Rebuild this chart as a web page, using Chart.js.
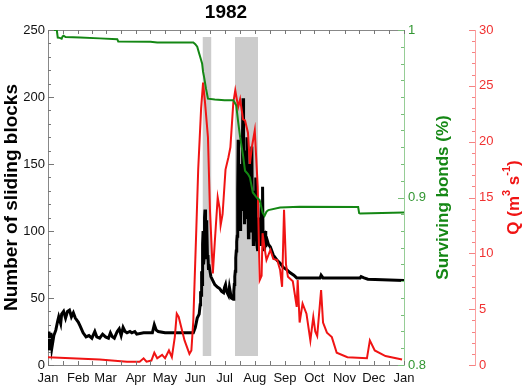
<!DOCTYPE html>
<html lang="en">
<head>
<meta charset="UTF-8">
<title>1982</title>
<script src="https://cdn.jsdelivr.net/npm/chart.js"></script>
<style>
    html, body { margin: 0; padding: 0; background: #fff; }
    #wrap { width: 525px; height: 387px; }
</style>
</head>
<body>
<div id="wrap"><canvas id="chart" width="525" height="387"></canvas></div>
<script>
// day of year -> value
const monthStarts = [0, 31, 59, 90, 120, 151, 181, 212, 243, 273, 304, 334, 365];
const monthLabels = ['Jan', 'Feb', 'Mar', 'Apr', 'May', 'Jun', 'Jul', 'Aug', 'Sep', 'Oct', 'Nov', 'Dec', 'Jan'];

const blockDays = [0, 1, 3, 4, 6, 8, 10, 11, 13, 14, 16, 18, 20, 22, 24, 26, 28, 31, 33, 36, 39, 42, 45, 48, 50, 53, 56, 59, 62, 64, 66, 68, 71, 73, 75, 77, 79, 81, 84, 86, 89, 91, 98, 107, 109, 111, 113, 120, 149, 151, 153, 155,
    156, 156.5, 157, 157.5, 158, 158.5, 159, 159.5, 160, 160.5, 161, 161.5, 162, 162.5, 163, 163.5, 164, 164.5, 165, 167, 169, 171, 174, 176, 178, 180, 181, 182, 183, 185, 186, 188,
    190, 190.5, 191, 191.5, 192, 192.5, 193, 193.5, 194, 194.5, 195, 195.5, 196, 196.5, 197, 197.5, 198, 198.5, 199, 199.5, 200, 200.5, 201, 201.5, 202, 202.5, 203, 203.5, 204, 204.5,
    205, 205.5, 206, 206.5, 207, 207.5, 208, 208.5, 209, 209.5, 210, 210.5, 211, 211.5, 212, 212.5, 213, 213.5, 214, 214.5, 215, 215.5, 216, 216.5, 217, 217.5, 218, 218.5, 219, 219.5,
    220, 220.5, 221, 221.5, 222, 222.5, 223, 223.5, 224, 226, 228, 231, 235, 238, 241, 245, 248, 252, 255, 279, 280, 282, 320, 321, 324, 328, 365];
const blockCounts = [25, 11, 24, 13, 22, 26, 33, 36, 31, 38, 40, 35, 40, 41, 36, 39, 35, 32, 29, 24, 21, 22, 20, 25, 21, 20, 23, 21, 20, 24, 21, 20, 25, 27, 22, 28, 25, 24, 25, 24, 25, 23, 24, 24, 30, 26, 25, 24, 24, 28, 35, 38,
    45, 55, 52, 70, 60, 90, 100, 75, 80, 110, 116, 85, 95, 108, 105, 80, 82, 72, 75, 66, 63, 60, 58, 57, 55, 54, 58, 60, 55, 52, 58, 50,
    49, 55, 60, 66, 70, 80, 85, 92, 96, 130, 168, 120, 110, 140, 130, 100, 150, 115, 120, 175, 199, 130, 140, 105, 120, 150, 160, 110, 170, 120,
    125, 95, 110, 145, 150, 100, 135, 105, 163, 110, 115, 90, 95, 130, 120, 95, 140, 100, 100, 88, 85, 110, 100, 90, 110, 90, 95, 120, 105, 90,
    133, 95, 100, 88, 85, 98, 100, 88, 95, 90, 88, 82, 78, 76, 73, 71, 69, 67, 65, 65, 67, 65, 65, 66, 65, 64, 63];

const bondDays = [0, 9, 10, 12, 14, 15, 16, 18, 33, 53, 71, 72, 105, 112, 149, 151, 153, 155, 156, 158, 159, 160, 162, 164, 171, 181, 190, 193, 195, 197, 200, 202, 205, 207, 210, 214, 217, 220, 222, 224, 226, 238, 258, 318, 319, 320, 365];
const bondFractions = [1.0, 1.0, 0.9955, 0.9953, 0.9948, 0.9962, 0.9966, 0.9958, 0.9955, 0.995, 0.9945, 0.9932, 0.993, 0.9925, 0.9925, 0.9915, 0.990, 0.986, 0.984, 0.980, 0.975, 0.972, 0.965, 0.959, 0.9585, 0.958, 0.958, 0.955, 0.945, 0.936, 0.925, 0.916, 0.914, 0.912, 0.903, 0.900, 0.8985, 0.891, 0.889, 0.8915, 0.8925, 0.894, 0.8945, 0.8943, 0.8907, 0.8905, 0.891];

const flowDays = [0, 53, 81, 94, 98, 101, 106, 109, 112, 117, 120, 124, 127, 130, 132, 134, 140, 145, 147, 149, 152, 154, 157, 159, 161, 164, 166, 169, 171, 174, 176, 177, 179, 182, 185, 187, 190, 192, 195, 197, 200, 202, 205, 207, 209, 212, 215, 217, 219, 220, 222, 224, 228, 231, 235, 238, 240, 242, 244, 246, 251, 255, 256, 258, 261, 265, 269, 272, 274, 276, 280, 282, 286, 291, 296, 307, 327, 330, 335, 346, 363];
const flowValues = [0.7, 0.5, 0.3, 0.3, 0.6, 0.3, 0.4, 1.1, 0.6, 0.9, 0.6, 1.3, 0.7, 2.5, 4.6, 4.3, 2.2, 1.0, 1.3, 4.0, 12, 17.5, 23, 25.3, 23.5, 20.4, 14, 8.2, 11, 15, 14, 12.5, 13.5, 17.5, 18.6, 19.5, 23.5, 24.6, 23.1, 23.8, 22, 21.9, 20.8, 18, 19.5, 21, 16, 7.6, 8, 11.8, 10.5, 9.4, 10.3, 9.5, 9.4, 8.5, 7.0, 13.9, 9, 7.9, 7.5, 5.2, 7.6, 3.8, 5.5, 4.6, 2.2, 4.3, 3.0, 2.6, 6.7, 3.8, 2.9, 2.5, 1.1, 0.7, 0.6, 2.2, 1.3, 0.8, 0.5];

// shaded periods (day of year), height in sliding-block units
const bandStarts = [158.4, 191.7];
const bandEnds = [167.6, 215.3];
const bandBottom = 6.7;
const bandTop = 244.8;

const FONT = "'Liberation Sans', Arial, Helvetica, sans-serif";
const GREEN = 'rgb(20, 135, 20)';
const RED = 'rgb(240, 20, 20)';

function pairs(xs, ys) {
    return xs.map((x, i) => ({ x: x, y: ys[i] }));
}

const bandSets = bandStarts.map((s, i) => ({
    data: [
        { x: s, y: bandBottom }, { x: s, y: bandTop },
        { x: bandEnds[i], y: bandTop }, { x: bandEnds[i], y: bandBottom }
    ],
    yAxisID: 'y',
    borderWidth: 0,
    backgroundColor: 'rgb(204, 204, 204)',
    fill: { value: bandBottom },
    pointRadius: 0
}));

// ticks pointing into the plot, like the original
const inwardTicks = {
    id: 'inwardTicks',
    afterDatasetsDraw(chart) {
        const { ctx, chartArea: a, scales } = chart;
        const seg = (x1, y1, x2, y2) => { ctx.beginPath(); ctx.moveTo(x1, y1); ctx.lineTo(x2, y2); ctx.stroke(); };
        ctx.save();
        ctx.lineWidth = 1;

        ctx.strokeStyle = '#777';
        for (let i = 0; i < monthStarts.length; i++) {
            const days = [monthStarts[i]];
            if (i < monthStarts.length - 1) days.push((monthStarts[i] + monthStarts[i + 1]) / 2);
            days.forEach(d => {
                const px = Math.round(scales.x.getPixelForValue(d)) + 0.5;
                seg(px, a.bottom, px, a.bottom - 4);
                seg(px, a.top, px, a.top + 4);
            });
        }
        for (let v = 0; v <= 250; v += 10) {
            const py = Math.round(scales.y.getPixelForValue(v)) + 0.5;
            seg(a.left, py, a.left + (v % 50 === 0 ? 6 : 3), py);
        }

        ctx.strokeStyle = 'rgb(120, 190, 120)';
        for (let k = 0; k <= 20; k++) {
            const py = Math.round(scales.y1.getPixelForValue(0.8 + k * 0.01)) + 0.5;
            seg(a.right, py, a.right - (k % 10 === 0 ? 6 : 3), py);
        }

        ctx.strokeStyle = 'rgb(245, 130, 130)';
        const rx = scales.y2.left;
        for (let v = 0; v <= 30; v++) {
            const py = Math.round(scales.y2.getPixelForValue(v)) + 0.5;
            seg(rx, py, rx - (v % 5 === 0 ? 6 : 3), py);
        }

        // right-hand titles, read bottom to top
        ctx.textAlign = 'center';
        ctx.textBaseline = 'middle';
        const cy = (a.top + a.bottom) / 2;

        ctx.save();
        ctx.translate(scales.y1.left + 39, cy);
        ctx.rotate(-Math.PI / 2);
        ctx.fillStyle = GREEN;
        ctx.font = 'bold 17px ' + FONT;
        ctx.fillText('Surviving bonds (%)', 0, 0);
        ctx.restore();

        ctx.save();
        ctx.translate(scales.y2.left + 39, cy);
        ctx.rotate(-Math.PI / 2);
        ctx.fillStyle = RED;
        const big = 'bold 17px ' + FONT;
        const small = 'bold 11px ' + FONT;
        const parts = [['Q (m', big, 0], ['3', small, -7], [' s', big, 0], ['-1', small, -7], [')', big, 0]];
        let total = 0;
        parts.forEach(p => { ctx.font = p[1]; total += ctx.measureText(p[0]).width; });
        let px = -total / 2;
        ctx.textAlign = 'left';
        parts.forEach(p => {
            ctx.font = p[1];
            ctx.fillText(p[0], px, p[2]);
            px += ctx.measureText(p[0]).width;
        });
        ctx.restore();

        ctx.restore();
    }
};

new Chart(document.getElementById('chart'), {
    type: 'line',
    data: {
        datasets: [
            { data: pairs(bondDays, bondFractions), yAxisID: 'y1', borderColor: GREEN, borderWidth: 2, pointRadius: 0, fill: false },
            { data: pairs(flowDays, flowValues), yAxisID: 'y2', borderColor: RED, borderWidth: 2, pointRadius: 0, fill: false },
            { data: pairs(blockDays, blockCounts), yAxisID: 'y', borderColor: '#000', borderWidth: 3, pointRadius: 0, fill: false },
            ...bandSets
        ]
    },
    options: {
        responsive: false,
        animation: false,
        layout: { padding: 0 },
        plugins: { legend: { display: false }, tooltip: { enabled: false } },
        scales: {
            x: {
                type: 'linear', position: 'bottom', min: 0, max: 365,
                grid: { display: false, drawTicks: false },
                border: { display: true, color: '#888' },
                afterBuildTicks: s => { s.ticks = monthStarts.map(v => ({ value: v })); },
                afterFit: s => { s.height = 22; },
                ticks: {
                    autoSkip: false, maxRotation: 0, padding: 6, color: '#111',
                    font: { family: FONT, size: 13 },
                    callback: (v, i) => monthLabels[i]
                }
            },
            x2: {
                type: 'linear', position: 'top', min: 0, max: 365,
                grid: { display: false, drawTicks: false },
                border: { display: true, color: '#888' },
                ticks: { display: false },
                afterFit: s => { s.height = 30; },
                title: {
                    display: true, text: '1982', color: '#000',
                    font: { family: FONT, size: 19, weight: 'bold' },
                    padding: { top: 1, bottom: 0 }
                }
            },
            y: {
                position: 'left', min: 0, max: 250,
                grid: { display: false, drawTicks: false },
                border: { display: true, color: '#888' },
                afterFit: s => { s.width = 48; },
                ticks: { stepSize: 50, padding: 3, color: '#111', font: { family: FONT, size: 13 } },
                title: {
                    display: true, text: 'Number of sliding blocks', color: '#000',
                    font: { family: FONT, size: 19, weight: 'bold' },
                    padding: { top: 0, bottom: 0 }
                }
            },
            y1: {
                position: 'right', min: 0.8, max: 1,
                grid: { display: false, drawTicks: false },
                border: { display: true, color: 'rgb(150, 205, 150)' },
                afterFit: s => { s.width = 71; },
                ticks: {
                    stepSize: 0.1, padding: 4, color: 'rgb(50, 150, 50)',
                    font: { family: FONT, size: 13 },
                    callback: v => String(+v.toFixed(2))
                }
            },
            y2: {
                position: 'right', min: 0, max: 30,
                grid: { display: false, drawTicks: false },
                border: { display: true, color: 'rgb(250, 160, 160)' },
                afterFit: s => { s.width = 50; },
                ticks: { stepSize: 5, padding: 4, color: 'rgb(240, 50, 50)', font: { family: FONT, size: 13 } }
            }
        }
    },
    plugins: [inwardTicks]
});
</script>
</body>
</html>
